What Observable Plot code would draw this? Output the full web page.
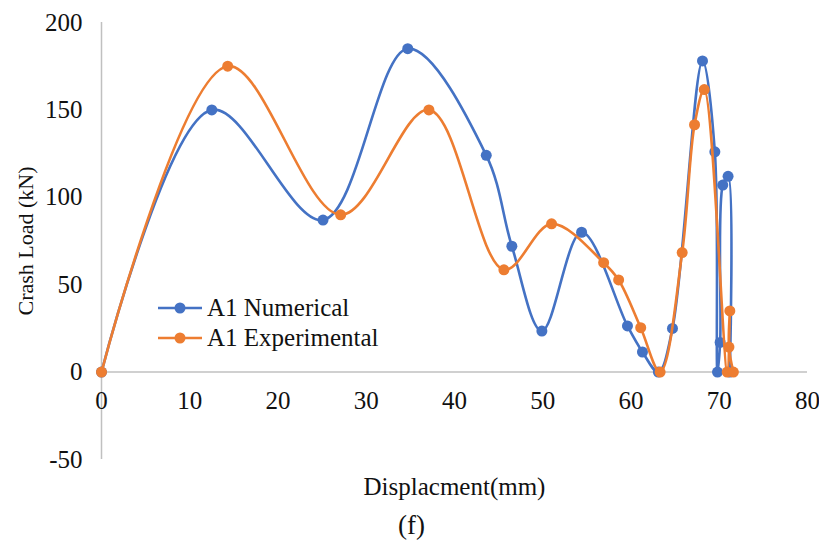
<!DOCTYPE html>
<html>
<head>
<meta charset="utf-8">
<script src="https://cdn.jsdelivr.net/npm/d3@7"></script>
<script src="https://cdn.jsdelivr.net/npm/@observablehq/plot@0.6"></script>
<style>
  body { margin: 0; background: #fff; }
  #wrap { position: relative; width: 819px; height: 550px; }
  .legend { position: absolute; left: 156px; top: 293px; font-family: "Liberation Serif", "Times New Roman", serif; font-size: 25px; color: #111; }
  .legend .row { display: flex; align-items: center; height: 30px; }
  .legend svg { margin-right: 3px; }
</style>
</head>
<body>
<div id="wrap"></div>
<script>
// Series: A1 Numerical
const numX = [0, 12.5, 25.1, 34.7, 43.6, 46.5, 49.9, 54.4, 59.6, 61.3, 63.1, 64.7, 68.1, 69.5, 69.8, 70.1, 70.4, 71.0, 71.2];
const numY = [0, 150, 87, 185, 124, 72, 23.5, 80, 26.4, 11.5, 0, 25, 178, 126, 0, 17, 107, 112, 0];
// Series: A1 Experimental
const expX = [0, 14.3, 27.1, 37.1, 45.6, 51.0, 56.9, 58.6, 61.1, 63.3, 65.8, 67.2, 68.3, 70.9, 71.2, 71.1, 71.6];
const expY = [0, 175, 90, 150, 58.5, 84.8, 62.6, 52.7, 25.4, 0, 68.4, 141.5, 161.6, 0, 35, 14.3, 0];

const seriesNames = ["A1 Numerical", "A1 Experimental"];
const seriesColors = ["#4472C4", "#ED7D31"];

const xTicks = [0, 10, 20, 30, 40, 50, 60, 70, 80];
const yTicks = [-50, 0, 50, 100, 150, 200];
const xTitle = "Displacment(mm)";
const yTitle = "Crash Load (kN)";
const caption = "(f)";

const num = numX.map((x, i) => ({x, y: numY[i]}));
const exp = expX.map((x, i) => ({x, y: expY[i]}));

const font = "Liberation Serif, Times New Roman, serif";
const axisGray = "#c0c0c0";
const ink = "#111";

const chart = Plot.plot({
  width: 819,
  height: 550,
  marginLeft: 101,
  marginRight: 12,
  marginTop: 22,
  marginBottom: 91,
  style: { fontFamily: font, fontSize: "25px", color: ink, background: "#fff" },
  x: { domain: [0, 80], axis: null },
  y: { domain: [-50, 200], axis: null },
  marks: [
    Plot.ruleX([0], { y1: -50, y2: 200, stroke: axisGray, strokeWidth: 1.5 }),
    Plot.ruleY([0], { x1: 0, x2: 80, stroke: axisGray, strokeWidth: 1.5 }),
    Plot.axisY({ ticks: yTicks, tickSize: 0, tickPadding: 19, fontSize: 25, label: null, tickFormat: d => String(d) }),
    Plot.text(xTicks, { x: d => d, y: () => 0, dy: 29, text: d => String(d), fontSize: 25, fill: ink }),
    Plot.line(num, { x: "x", y: "y", curve: "catmull-rom", stroke: seriesColors[0], strokeWidth: 2.6 }),
    Plot.dot(num, { x: "x", y: "y", r: 5.5, fill: seriesColors[0], stroke: null }),
    Plot.line(exp, { x: "x", y: "y", curve: "catmull-rom", stroke: seriesColors[1], strokeWidth: 2.6 }),
    Plot.dot(exp, { x: "x", y: "y", r: 5.5, fill: seriesColors[1], stroke: null }),
    Plot.text([yTitle], { frameAnchor: "left", textAnchor: "middle", dx: -76, dy: 0, rotate: -90, fontSize: 22, fill: ink, text: d => d }),
    Plot.text([xTitle], { frameAnchor: "bottom", dy: 35, fontSize: 25, fill: ink, text: d => d }),
    Plot.text([caption], { frameAnchor: "bottom", dx: -43, dy: 74, fontSize: 27, fill: ink, text: d => d })
  ]
});

const wrap = document.getElementById("wrap");
wrap.appendChild(chart);

const legend = document.createElement("div");
legend.className = "legend";
seriesNames.forEach((name, i) => {
  const row = document.createElement("div");
  row.className = "row";
  row.innerHTML = `<svg width="48" height="30"><line x1="2" y1="15" x2="46" y2="15" stroke="${seriesColors[i]}" stroke-width="2.6"/><circle cx="24" cy="15" r="5.5" fill="${seriesColors[i]}"/></svg><span>${name}</span>`;
  legend.appendChild(row);
});
wrap.appendChild(legend);
</script>
</body>
</html>
